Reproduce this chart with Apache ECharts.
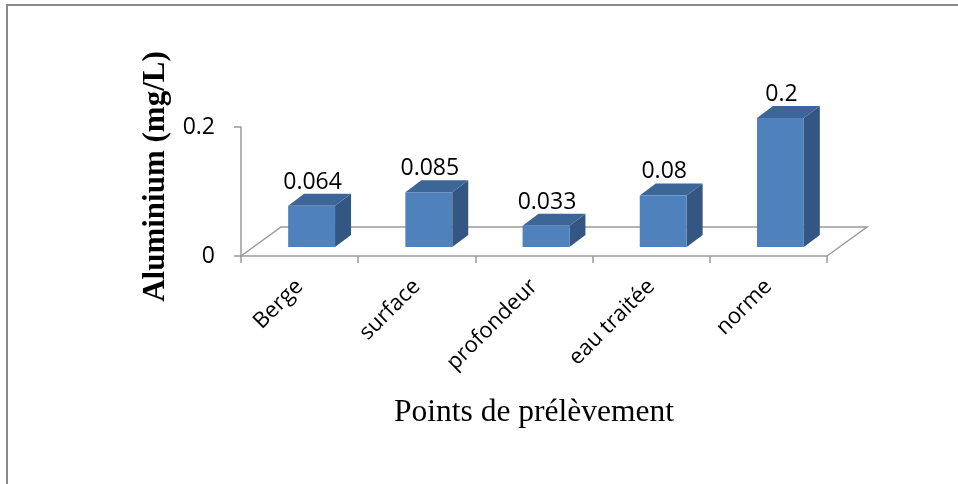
<!DOCTYPE html>
<html>
<head>
<meta charset="utf-8">
<script src="https://cdn.jsdelivr.net/npm/echarts@6/dist/echarts.min.js"></script>
<style>
  html, body { margin: 0; padding: 0; background: #ffffff; }
  #chart { width: 958px; height: 484px; }
</style>
</head>
<body>
<div id="chart"></div>
<script>
// Sampling points and aluminium concentration (mg/L)
const categories = ['Berge', 'surface', 'profondeur', 'eau traitée', 'norme'];
const aluminium = [0.064, 0.085, 0.033, 0.08, 0.2];
const yTicks = [0, 0.2];

const xTitle = 'Points de prélèvement';
const yTitle = 'Aluminium (mg/L)';

// 3D look: floor depth and bar depth in pixels
const FLOOR_DX = 40, FLOOR_DY = -29;
const BAR_OX = 12, BAR_OY = -9;     // bar front sits inside the floor depth
const BAR_DX = 16, BAR_DY = -12;    // bar thickness
const BAR_RATIO = 0.4;

const FRONT = '#4f81bd', TOP = '#3d6698', SIDE = '#335683';
const LINE = '#9a9a9a';
const LABEL_FONT = '"Open Sans"';

const chart = echarts.init(document.getElementById('chart'), null, { renderer: 'canvas' });

function renderFloor(params, api) {
  const cs = params.coordSys;
  const x0 = cs.x, x1 = cs.x + cs.width, yb = cs.y + cs.height;
  return {
    type: 'polyline',
    shape: {
      points: [
        [x0, yb], [x0 + FLOOR_DX, yb + FLOOR_DY],
        [x1 + FLOOR_DX, yb + FLOOR_DY], [x1, yb]
      ]
    },
    style: { stroke: LINE, lineWidth: 1.5, fill: null },
    silent: true
  };
}

function renderBar(params, api) {
  const idx = api.value(0);
  const val = api.value(1);
  const base = api.coord([idx, 0]);
  const topPt = api.coord([idx, val]);
  const band = api.size([1, 0])[0];
  const w = band * BAR_RATIO;
  const x0 = base[0] - w / 2 + BAR_OX;
  const x1 = x0 + w;
  const yb = base[1] + BAR_OY;
  const yt = topPt[1] + BAR_OY;
  return {
    type: 'group',
    children: [
      {
        type: 'polygon',
        shape: { points: [[x1, yt], [x1 + BAR_DX, yt + BAR_DY], [x1 + BAR_DX, yb + BAR_DY], [x1, yb]] },
        style: { fill: SIDE }
      },
      {
        type: 'polygon',
        shape: { points: [[x0, yt], [x1, yt], [x1 + BAR_DX, yt + BAR_DY], [x0 + BAR_DX, yt + BAR_DY]] },
        style: { fill: TOP }
      },
      {
        type: 'rect',
        shape: { x: x0, y: yt, width: w, height: yb - yt },
        style: { fill: FRONT }
      },
      {
        type: 'text',
        style: {
          x: (x0 + x1) / 2 + 1,
          y: yt + BAR_DY,
          text: String(val),
          fill: '#000000',
          font: '23px ' + LABEL_FONT,
          textAlign: 'center',
          textVerticalAlign: 'bottom'
        }
      }
    ]
  };
}

chart.setOption({
  animation: false,
  backgroundColor: '#ffffff',
  grid: { left: 241, right: 131, top: 127, bottom: 228, containLabel: false },
  xAxis: {
    type: 'category',
    data: categories,
    boundaryGap: true,
    name: xTitle,
    nameLocation: 'middle',
    nameGap: 141,
    nameTextStyle: { fontFamily: '"Liberation Serif"', fontSize: 31.5, color: '#000000' },
    axisLine: { lineStyle: { color: LINE, width: 1.5 } },
    axisTick: { show: true, length: 7, lineStyle: { color: LINE, width: 1.5 } },
    axisLabel: {
      rotate: 45, margin: 27, interval: 0,
      fontFamily: LABEL_FONT, fontSize: 22, color: '#000000'
    },
    splitLine: { show: false }
  },
  yAxis: {
    type: 'value',
    min: yTicks[0],
    max: yTicks[yTicks.length - 1],
    interval: yTicks[1] - yTicks[0],
    name: yTitle,
    nameLocation: 'middle',
    nameGap: 62,
    nameTextStyle: {
      fontFamily: '"Liberation Serif"', fontSize: 31, fontWeight: 'bold', color: '#000000',
      padding: [0, 0, 0, 30]
    },
    axisLine: { show: true, lineStyle: { color: LINE, width: 1.5 } },
    axisTick: { show: true, length: 7, lineStyle: { color: LINE, width: 1.5 } },
    axisLabel: {
      margin: 26,
      fontFamily: LABEL_FONT, fontSize: 23, color: '#000000',
      formatter: v => String(v)
    },
    splitLine: { show: false }
  },
  series: [
    {
      type: 'custom',
      renderItem: renderFloor,
      data: [[0]],
      z: 1,
      silent: true
    },
    {
      type: 'custom',
      renderItem: renderBar,
      data: categories.map((c, i) => [i, aluminium[i]]),
      encode: { x: 0, y: 1 },
      z: 2
    }
  ],
  graphic: [
    {
      type: 'polyline',
      shape: { points: [[7, 484], [7, 5], [958, 5]] },
      style: { stroke: '#8a8a8a', lineWidth: 2, fill: null },
      silent: true,
      z: 100
    }
  ]
});
</script>
</body>
</html>
